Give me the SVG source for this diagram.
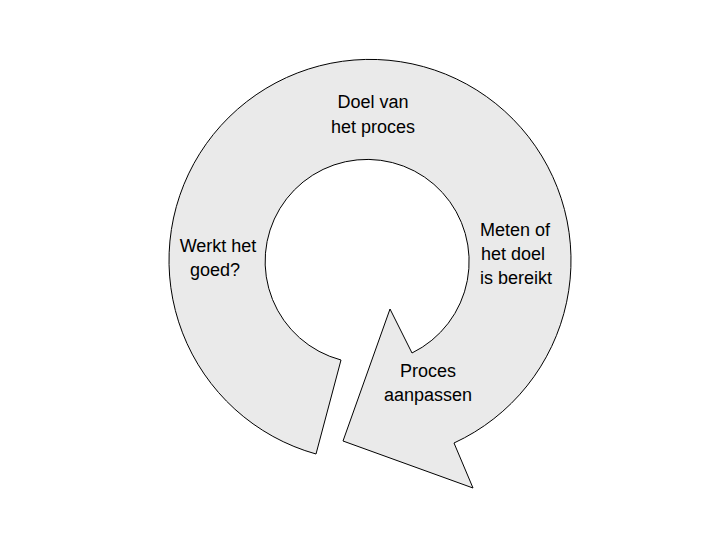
<svg xmlns="http://www.w3.org/2000/svg" width="720" height="540" viewBox="0 0 720 540">
<style>
text{font-family:"Liberation Sans",Arial,sans-serif;font-size:18px;fill:#000;text-anchor:middle}
.ring{fill:#eaeaea;stroke:#000;stroke-width:1}
</style>
<rect width="720" height="540" fill="#fff"/>
<g id="ring">
<path class="ring" d="M316,454 A201,201 0 1 1 454,443 L473,488 L343,441 L390,309 L412,353 A102,102 0 1 0 341,360 Z"/>
</g>
<g id="connectors"/>
<g id="doel"><text x="373" y="108">Doel van</text><text x="373" y="133">het proces</text></g>
<g id="meten"><text x="515" y="236">Meten of</text><text x="513" y="260">het doel</text><text x="516" y="284">is bereikt</text></g>
<g id="aanpassen"><text x="428" y="377">Proces</text><text x="428" y="401">aanpassen</text></g>
<g id="werkt"><text x="218" y="252">Werkt het</text><text x="215" y="276">goed?</text></g>
</svg>
